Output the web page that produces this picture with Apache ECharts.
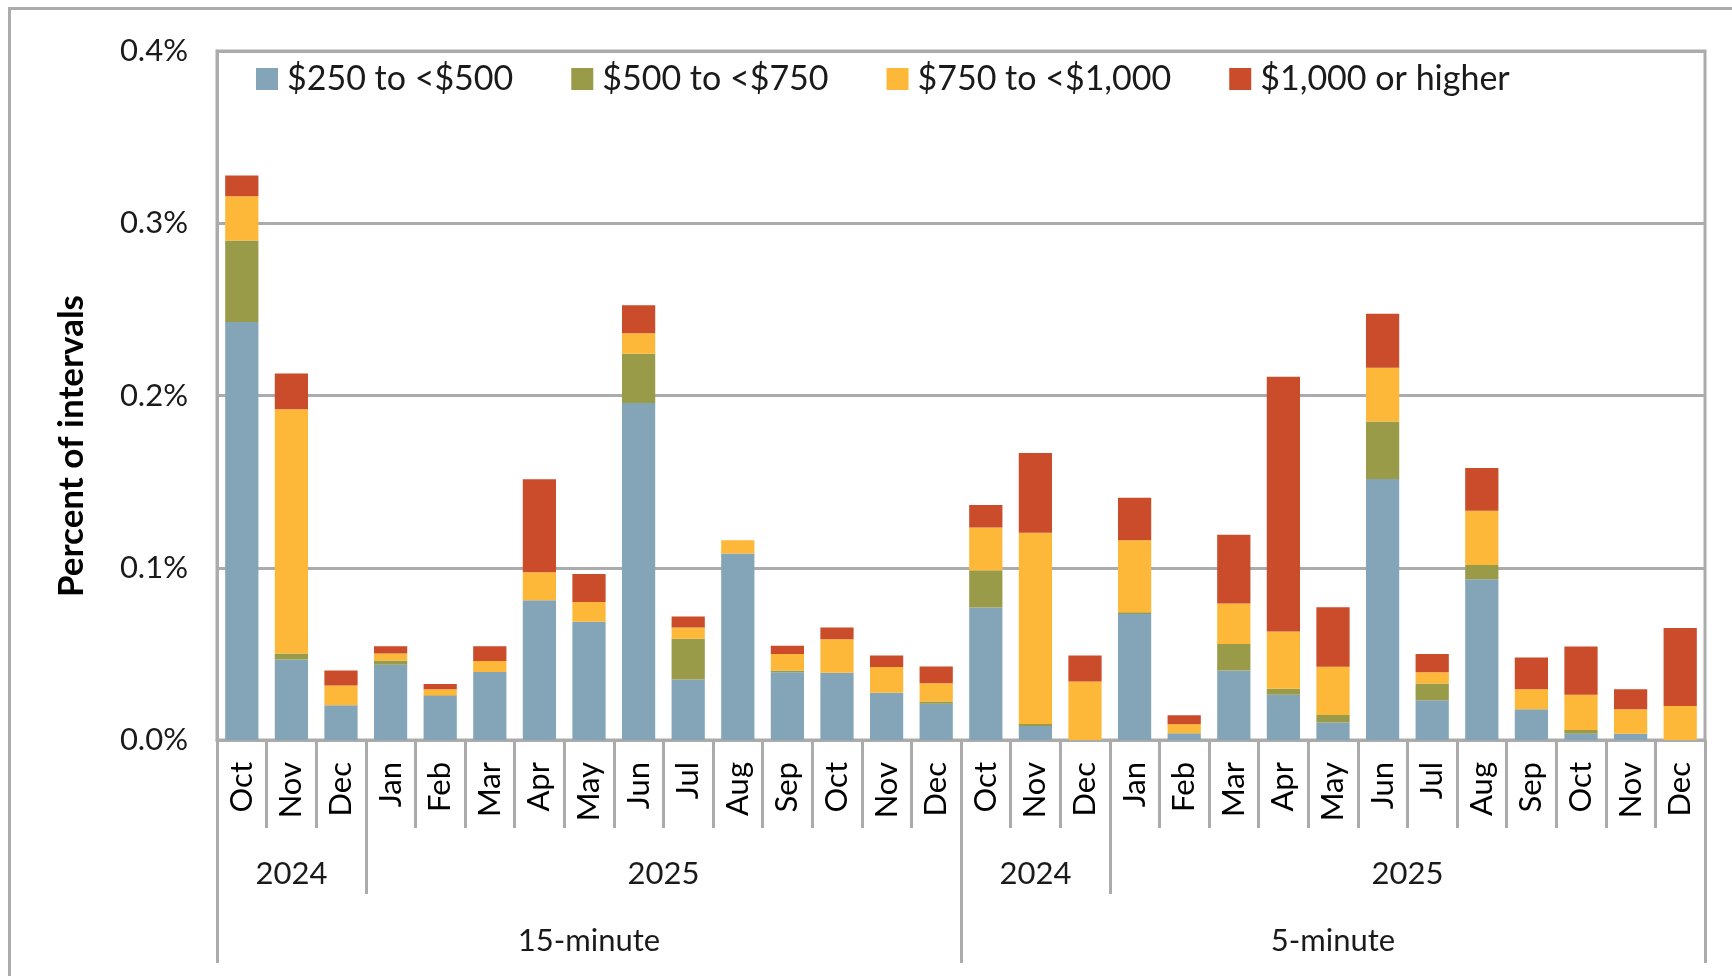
<!DOCTYPE html>
<html>
<head>
<meta charset="utf-8">
<script src="https://cdn.jsdelivr.net/npm/echarts@6/dist/echarts.min.js"></script>
<style>
  html, body { margin: 0; padding: 0; background: #fff; }
  #chart { position: absolute; left: 0; top: 0; width: 1732px; height: 976px; }
  #frame { position: absolute; left: 8px; top: 7px; width: 2000px; height: 2000px;
           border-left: 3px solid #ababab; border-top: 3px solid #ababab; pointer-events: none; }
</style>
</head>
<body>
<div id="chart"></div>
<div id="frame"></div>
<script>
// month categories, 15-minute block then 5-minute block
const months = ['Oct', 'Nov', 'Dec', 'Jan', 'Feb', 'Mar', 'Apr', 'May', 'Jun', 'Jul', 'Aug', 'Sep', 'Oct', 'Nov', 'Dec',
                'Oct', 'Nov', 'Dec', 'Jan', 'Feb', 'Mar', 'Apr', 'May', 'Jun', 'Jul', 'Aug', 'Sep', 'Oct', 'Nov', 'Dec']
const yearLabels = ['2024', '2025', '2024', '2025']
const yearBounds = [0, 3, 15, 18, 30]
const intervalLabels = ['15-minute', '5-minute']
const intervalBounds = [0, 15, 30]
const yTicks = [0, 0.1, 0.2, 0.3, 0.4]

// percent of intervals by price band
const band250 = [0.2426, 0.0468, 0.0202, 0.0437, 0.0255, 0.0395, 0.0812, 0.0686, 0.1956, 0.0351, 0.1083, 0.0393, 0.0391, 0.0275, 0.0211,
                 0.0769, 0.0081, 0, 0.0731, 0.0039, 0.0403, 0.0262, 0.0101, 0.1515, 0.0231, 0.0933, 0.0178, 0.0037, 0.0037, 0]
const band500 = [0.0474, 0.0034, 0, 0.0025, 0.0005, 0, 0, 0, 0.0286, 0.0237, 0, 0.001, 0, 0, 0.0012,
                 0.0217, 0.0012, 0, 0.001, 0, 0.0154, 0.0035, 0.0044, 0.0334, 0.0097, 0.0083, 0, 0.0021, 0, 0]
const band750 = [0.0257, 0.1418, 0.0115, 0.004, 0.0034, 0.0064, 0.0162, 0.0115, 0.012, 0.0065, 0.0076, 0.0097, 0.0194, 0.0149, 0.0106,
                 0.0247, 0.111, 0.034, 0.0419, 0.0052, 0.0236, 0.0333, 0.028, 0.0312, 0.0066, 0.0315, 0.0117, 0.0204, 0.0141, 0.0198]
const band1000 = [0.012, 0.0207, 0.0087, 0.0042, 0.0031, 0.0085, 0.054, 0.0162, 0.0162, 0.0064, 0, 0.0047, 0.0068, 0.0066, 0.0097,
                  0.0131, 0.0463, 0.0151, 0.0246, 0.0053, 0.0398, 0.1479, 0.0345, 0.0314, 0.0106, 0.0248, 0.0184, 0.0281, 0.0117, 0.0452]

const bandNames = ['$250 to <$500', '$500 to <$750', '$750 to <$1,000', '$1,000 or higher']
const bandColors = ['#84a5b8', '#9a9b48', '#fdb83a', '#ca4c2a']

const gray = '#ababab'
const font = 'Lato'

// centers of each label group on the 0..n value scale
const mids = b => b.slice(0, -1).map((v, i) => (v + b[i + 1]) / 2)
const yearMids = mids(yearBounds)
const intervalMids = mids(intervalBounds)

const chart = echarts.init(document.getElementById('chart'))
chart.setOption({
    animation: false,
    textStyle: { fontFamily: font },
    legend: {
        left: 256,
        top: 62,
        padding: 0,
        itemWidth: 22,
        itemHeight: 22,
        itemGap: 58,
        icon: 'rect',
        textStyle: { fontSize: 34, color: '#1a1a1a', padding: [0, 0, 0, 4] },
        data: bandNames
    },
    grid: {
        left: 217,
        right: 27,
        top: 51,
        bottom: 236,
        show: true,
        borderColor: gray,
        borderWidth: 3
    },
    xAxis: [
        {
            type: 'category',
            data: months,
            axisLine: { lineStyle: { color: gray, width: 3 } },
            axisTick: { show: true, interval: 0, length: 88, lineStyle: { color: gray, width: 3 } },
            axisLabel: { interval: 0, rotate: 90, margin: 22, fontSize: 31, color: '#000' }
        },
        {
            // year row
            type: 'value',
            min: 0,
            max: months.length,
            position: 'bottom',
            splitLine: { show: false },
            axisLine: { show: false },
            axisTick: { show: true, length: 154, customValues: yearBounds, lineStyle: { color: gray, width: 3 } },
            axisLabel: {
                customValues: yearMids,
                margin: 118,
                fontSize: 31,
                color: '#1a1a1a',
                formatter: v => yearLabels[yearMids.indexOf(v)]
            }
        },
        {
            // interval row
            type: 'value',
            min: 0,
            max: months.length,
            position: 'bottom',
            splitLine: { show: false },
            axisLine: { show: false },
            axisTick: { show: true, length: 223, customValues: intervalBounds, lineStyle: { color: gray, width: 3 } },
            axisLabel: {
                customValues: intervalMids,
                margin: 185,
                fontSize: 31,
                color: '#1a1a1a',
                formatter: v => intervalLabels[intervalMids.indexOf(v)]
            }
        }
    ],
    yAxis: {
        type: 'value',
        min: yTicks[0],
        max: yTicks[yTicks.length - 1],
        interval: 0.1,
        axisLine: { show: true, lineStyle: { color: gray, width: 3 } },
        axisTick: { show: false },
        splitLine: { lineStyle: { color: gray, width: 3 } },
        axisLabel: { fontSize: 31, color: '#1a1a1a', margin: 29, formatter: v => v.toFixed(1) + '%' }
    },
    graphic: [{
        type: 'text',
        x: 72,
        y: 446,
        rotation: Math.PI / 2,
        style: {
            text: 'Percent of intervals',
            font: 'bold 35px Lato',
            fill: '#000',
            align: 'center',
            verticalAlign: 'middle'
        }
    }],
    series: [band250, band500, band750, band1000].map((d, i) => ({
        name: bandNames[i],
        type: 'bar',
        stack: 'total',
        barCategoryGap: '33%',
        itemStyle: { color: bandColors[i] },
        data: d
    }))
})
</script>
</body>
</html>
